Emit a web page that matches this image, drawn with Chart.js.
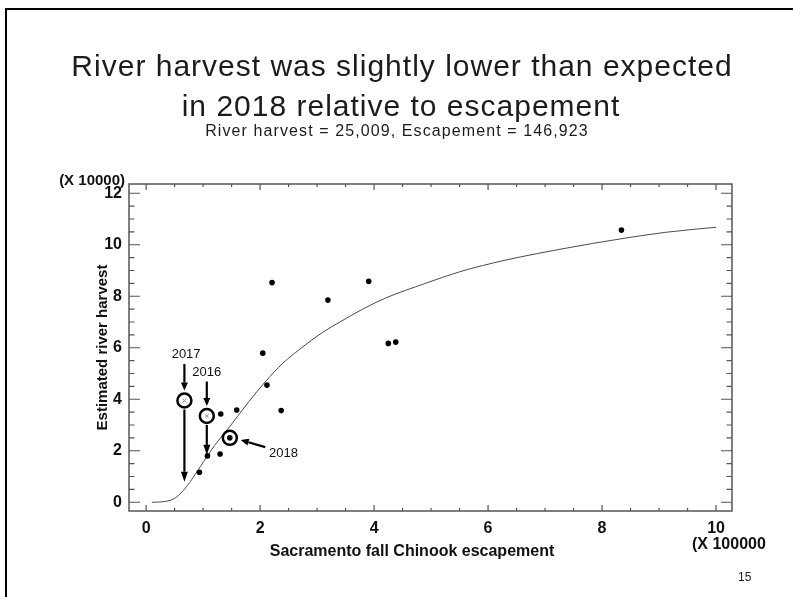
<!DOCTYPE html>
<html>
<head>
<meta charset="utf-8">
<script src="https://cdn.jsdelivr.net/npm/chart.js@4.4.1/dist/chart.umd.min.js"></script>
<style>
  html, body { margin: 0; padding: 0; background: #fff; }
  #wrap { position: relative; width: 793px; height: 597px; overflow: hidden; }
  #grafica { position: absolute; left: 0; top: 0; }
  #marco { position: absolute; left: 5px; top: 8px; right: -10px; bottom: -10px;
           border-left: 2px solid #000; border-top: 2px solid #000; pointer-events: none; }
</style>
</head>
<body>
<div id="wrap">
  <canvas id="grafica" width="793" height="597"></canvas>
  <div id="marco"></div>
</div>
<script>
// Escapement in units of 100,000 fish, harvest in units of 10,000 fish
const escapement = [0.935, 1.076, 1.298, 1.31, 1.469, 1.59, 2.047, 2.12, 2.21, 2.37, 3.19, 3.906, 4.25, 4.38, 8.34];
const harvest    = [1.165, 1.80, 1.876, 3.43, 2.501, 3.58, 5.79, 4.55, 8.53, 3.56, 7.85, 8.58, 6.17, 6.22, 10.57];

// Fitted harvest curve
const curveEsc     = [0.1, 0.3, 0.5, 0.65, 0.8, 0.95, 1.2, 1.5, 1.8, 2.1, 2.4, 2.7, 3.1, 3.4, 3.8, 4.2, 4.9, 5.5, 6.3, 7.4, 8.3, 9.1, 10.0];
const curveHarvest = [0.0, 0.02, 0.15, 0.45, 0.88, 1.38, 2.2, 3.03, 3.9, 4.7, 5.4, 5.95, 6.6, 7.0, 7.5, 7.93, 8.5, 8.95, 9.4, 9.88, 10.22, 10.48, 10.68];

// Highlighted years
const markedYears   = ["2017", "2016", "2018"];
const markedEsc     = [0.672, 1.065, 1.469];
const markedHarvest = [3.95, 3.35, 2.501];
// 2017 and 2016 drop to these harvest values
const dropHarvest   = [0.8, 1.84];

const xTicks = [0, 2, 4, 6, 8, 10];
const yTicks = [0, 2, 4, 6, 8, 10, 12];

const negro = "#000";
const gris = "#555";
const arial = '"Liberation Sans", Arial, sans-serif';

function flecha(ctx, x1, y1, x2, y2, ancho, largo, base) {
    const ang = Math.atan2(y2 - y1, x2 - x1);
    const bx = x2 - largo * Math.cos(ang);
    const by = y2 - largo * Math.sin(ang);
    ctx.save();
    ctx.strokeStyle = negro;
    ctx.fillStyle = negro;
    ctx.lineWidth = ancho;
    ctx.beginPath();
    ctx.moveTo(x1, y1);
    ctx.lineTo(bx, by);
    ctx.stroke();
    ctx.beginPath();
    ctx.moveTo(x2, y2);
    ctx.lineTo(bx + base / 2 * Math.sin(ang), by - base / 2 * Math.cos(ang));
    ctx.lineTo(bx - base / 2 * Math.sin(ang), by + base / 2 * Math.cos(ang));
    ctx.closePath();
    ctx.fill();
    ctx.restore();
}

// Frame with inward ticks on all four sides
const marcoEjes = {
    id: "marcoEjes",
    beforeDatasetsDraw(chart) {
        const { ctx, chartArea: a, scales: { x, y } } = chart;
        ctx.save();
        ctx.strokeStyle = gris;
        ctx.lineWidth = 1.5;
        ctx.strokeRect(a.left, a.top, a.right - a.left, a.bottom - a.top);
        ctx.lineWidth = 1.2;
        ctx.beginPath();
        for (let v = 0; v <= 10.001; v += 0.5) {
            const px = x.getPixelForValue(v);
            const l = v % 2 === 0 ? 6 : 3;
            ctx.moveTo(px, a.bottom); ctx.lineTo(px, a.bottom - l);
            ctx.moveTo(px, a.top); ctx.lineTo(px, a.top + l);
        }
        for (let v = 0; v <= 12.001; v += 0.5) {
            const py = y.getPixelForValue(v);
            const l = v % 2 === 0 ? 11 : 5.5;
            ctx.moveTo(a.left, py); ctx.lineTo(a.left + l, py);
            ctx.moveTo(a.right, py); ctx.lineTo(a.right - l, py);
        }
        ctx.stroke();
        ctx.restore();
    }
};

// Arrows and year labels
const anotaciones = {
    id: "anotaciones",
    afterDatasetsDraw(chart) {
        const { ctx, scales: { x, y } } = chart;
        ctx.save();
        ctx.font = "13px " + arial;
        ctx.fillStyle = "#111";
        ctx.textAlign = "center";
        ctx.textBaseline = "alphabetic";

        // 2017 and 2016: label, short arrow to circle, long arrow down
        const labelPos = [[0.03, 5.6], [0.0, 4.92]];
        for (let i = 0; i < 2; i++) {
            const cx = x.getPixelForValue(markedEsc[i]);
            const cy = y.getPixelForValue(markedHarvest[i]);
            const ly = y.getPixelForValue(labelPos[i][1]);
            ctx.fillText(markedYears[i], x.getPixelForValue(markedEsc[i] + labelPos[i][0]), ly);
            flecha(ctx, cx, ly + 6, cx, cy - 10, 2.2, 8, 7);
            flecha(ctx, cx, cy + 9, cx, y.getPixelForValue(dropHarvest[i]), 2.2, 10, 7);
        }

        // 2018: label to the right with arrow pointing at the circle
        ctx.fillText(markedYears[2], x.getPixelForValue(2.41), y.getPixelForValue(1.75));
        flecha(ctx, x.getPixelForValue(2.09), y.getPixelForValue(2.14),
               x.getPixelForValue(1.66), y.getPixelForValue(2.42), 2.2, 8, 7);
        ctx.restore();
    }
};

// Titles and axis captions
const textos = {
    id: "textos",
    afterDraw(chart) {
        const { ctx, chartArea: a } = chart;
        ctx.save();
        ctx.fillStyle = "#1c1c1c";
        ctx.textAlign = "center";
        ctx.textBaseline = "alphabetic";
        ctx.letterSpacing = "1px";
        ctx.font = "30px " + arial;
        ctx.fillText("River harvest was slightly lower than expected", 402, 76);
        ctx.fillText("in 2018 relative to escapement", 401, 116);
        ctx.letterSpacing = "1.1px";
        ctx.font = "16px " + arial;
        ctx.fillText("River harvest = 25,009, Escapement = 146,923", 397, 136);
        ctx.letterSpacing = "0px";

        ctx.fillStyle = "#111";
        ctx.font = "bold 16px " + arial;
        ctx.fillText("Sacramento fall Chinook escapement", 412, 556);
        ctx.textAlign = "left";
        ctx.fillText("(X 100000", 692, 549);
        ctx.textAlign = "right";
        ctx.font = "bold 15px " + arial;
        ctx.fillText("(X 10000)", 125, 185);

        ctx.translate(107, (a.top + a.bottom) / 2);
        ctx.rotate(-Math.PI / 2);
        ctx.textAlign = "center";
        ctx.font = "bold 15px " + arial;
        ctx.fillText("Estimated river harvest", 0, 0);
        ctx.restore();

        ctx.save();
        ctx.fillStyle = "#222";
        ctx.font = "12px " + arial;
        ctx.fillText("15", 738, 581);
        ctx.restore();
    }
};

const tickFont = { family: arial, size: 16, weight: "bold" };

new Chart(document.getElementById("grafica"), {
    type: "scatter",
    data: {
        datasets: [
            {
                label: "years",
                data: escapement.map((e, i) => ({ x: e, y: harvest[i] })),
                backgroundColor: negro,
                borderWidth: 0,
                pointRadius: 2.8
            },
            {
                label: "marked",
                data: markedEsc.map((e, i) => ({ x: e, y: markedHarvest[i] })),
                pointStyle: "circle",
                pointRadius: 7,
                borderWidth: 2.5,
                borderColor: negro,
                backgroundColor: "rgba(0,0,0,0)"
            },
            {
                label: "excluded",
                data: markedEsc.slice(0, 2).map((e, i) => ({ x: e, y: markedHarvest[i] })),
                pointStyle: "crossRot",
                pointRadius: 2.5,
                borderWidth: 1,
                borderColor: "#888"
            },
            {
                label: "curve",
                data: curveEsc.map((e, i) => ({ x: e, y: curveHarvest[i] })),
                showLine: true,
                pointRadius: 0,
                borderColor: "#4a4a4a",
                borderWidth: 1,
                cubicInterpolationMode: "monotone"
            }
        ]
    },
    options: {
        responsive: false,
        animation: false,
        layout: { padding: { top: 184, right: 61, left: 0, bottom: 0 } },
        plugins: { legend: { display: false }, tooltip: { enabled: false } },
        scales: {
            x: {
                type: "linear",
                min: -0.3,
                max: 10.28,
                grid: { display: false, drawTicks: false },
                border: { display: false },
                afterBuildTicks: s => { s.ticks = xTicks.map(v => ({ value: v })); },
                afterFit: s => { s.height = 86; },
                ticks: { font: tickFont, color: "#111", padding: 8, maxRotation: 0 }
            },
            y: {
                type: "linear",
                min: -0.34,
                max: 12.36,
                grid: { display: false, drawTicks: false },
                border: { display: false },
                afterBuildTicks: s => { s.ticks = yTicks.map(v => ({ value: v })); },
                afterFit: s => { s.width = 129; },
                ticks: { font: tickFont, color: "#111", padding: 7 }
            }
        }
    },
    plugins: [marcoEjes, anotaciones, textos]
});
</script>
</body>
</html>
